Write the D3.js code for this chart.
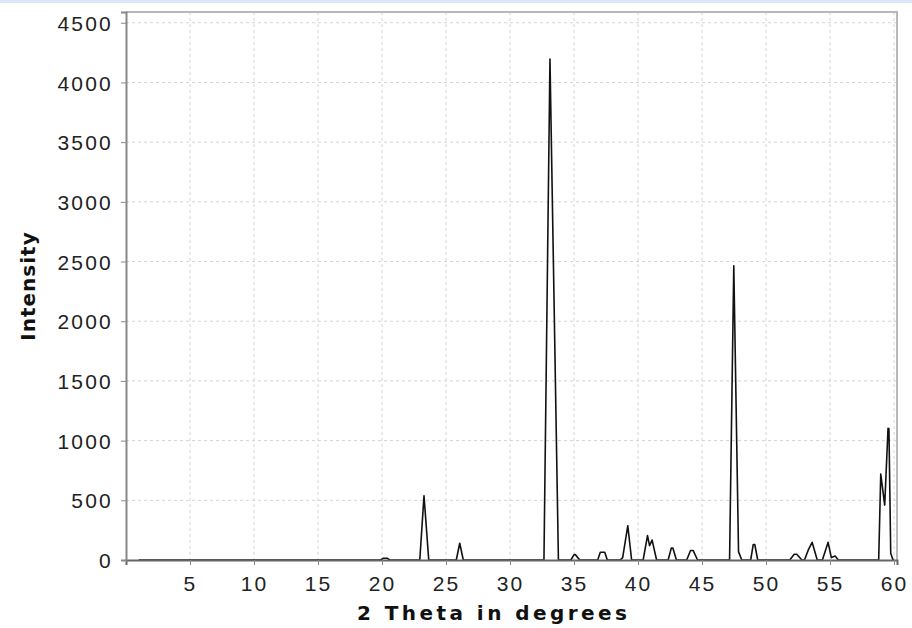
<!DOCTYPE html>
<html>
<head>
<meta charset="utf-8">
<script src="https://cdn.jsdelivr.net/npm/d3@7"></script>
<style>
  html, body { margin: 0; padding: 0; background: #fff; }
  svg { display: block; font-family: "DejaVu Sans", sans-serif; }
  .tick text { font-size: 21px; fill: #222; letter-spacing: 2.2px; }
  .grid line { stroke: #d4d4d4; stroke-dasharray: 3,3; }
</style>
</head>
<body>
<div id="chart"></div>
<script>
// Diffractogram points (2 theta, intensity)
const twoTheta = [
  1, 19.9, 20.1, 20.4, 20.6,
  22.95, 23.28, 23.65,
  25.8, 26.07, 26.35,
  32.65, 33.12, 33.78,
  34.75, 35.0, 35.1, 35.45,
  36.85, 37.05, 37.4, 37.6,
  38.6, 38.8, 39.2, 39.5,
  40.4, 40.74, 40.9, 41.1, 41.45,
  42.35, 42.6, 42.72, 43.0,
  43.8, 44.1, 44.3, 44.65,
  47.15, 47.48, 47.85, 48.1,
  48.8, 49.0, 49.12, 49.35,
  51.85, 52.2, 52.4, 52.8,
  53.0, 53.3, 53.6, 54.0,
  54.4, 54.85, 55.1, 55.4, 55.65,
  58.8, 58.96, 59.27, 59.53, 59.6, 59.74, 59.92, 60
];
const intensity = [
  0, 0, 15, 15, 0,
  0, 538, 0,
  0, 140, 0,
  0, 4196, 0,
  0, 45, 45, 0,
  0, 65, 65, 0,
  0, 20, 287, 0,
  0, 204, 120, 167, 0,
  0, 100, 100, 0,
  0, 80, 80, 0,
  0, 2465, 70, 0,
  0, 130, 130, 0,
  0, 48, 48, 0,
  0, 84, 148, 0,
  0, 148, 20, 33, 0,
  0, 720, 460, 1103, 1100, 56, 0, 0
];
const xTicks = [5, 10, 15, 20, 25, 30, 35, 40, 45, 50, 55, 60];
const yTicks = [0, 500, 1000, 1500, 2000, 2500, 3000, 3500, 4000, 4500];

const width = 912, height = 628;
const margin = { top: 12, right: 15, bottom: 68, left: 126 };

const svg = d3.select("#chart").append("svg")
  .attr("width", width)
  .attr("height", height);

// thin light blue band along the top edge
svg.append("rect")
  .attr("x", 0).attr("y", 0)
  .attr("width", width).attr("height", 3)
  .attr("fill", "#d9e6f5");

const x = d3.scaleLinear()
  .domain([0, 60.23])
  .range([margin.left, width - margin.right]);

const y = d3.scaleLinear()
  .domain([0, 4590])
  .range([height - margin.bottom, margin.top]);

// grid
svg.append("g").attr("class", "grid")
  .selectAll("line.v").data(xTicks).join("line")
  .attr("x1", d => x(d)).attr("x2", d => x(d))
  .attr("y1", y.range()[1]).attr("y2", y.range()[0]);

svg.append("g").attr("class", "grid")
  .selectAll("line.h").data(yTicks.filter(d => d > 0)).join("line")
  .attr("x1", x.range()[0]).attr("x2", x.range()[1])
  .attr("y1", d => y(d)).attr("y2", d => y(d));

// top / right frame
svg.append("path")
  .attr("d", `M${x.range()[0]},${margin.top}H${x.range()[1]}V${y.range()[0]}`)
  .attr("fill", "none")
  .attr("stroke", "#b8b8b8")
  .attr("stroke-width", 2);

// the pattern
const pts = twoTheta.map((t, i) => [t, intensity[i]]);
const line = d3.line()
  .x(d => x(d[0]))
  .y(d => y(d[1]));

svg.append("path")
  .datum(pts)
  .attr("fill", "none")
  .attr("stroke", "#111")
  .attr("stroke-width", 1.6)
  .attr("stroke-linejoin", "round")
  .attr("d", line);

// axes
const xAxis = svg.append("g")
  .attr("transform", `translate(0,${height - margin.bottom})`)
  .call(d3.axisBottom(x).tickValues(xTicks).tickSize(5).tickPadding(7).tickFormat(d3.format("d")));

const yAxis = svg.append("g")
  .attr("transform", `translate(${margin.left},0)`)
  .call(d3.axisLeft(y).tickValues(yTicks).tickSize(5).tickPadding(8).tickFormat(d3.format("d")));

xAxis.select(".domain").attr("stroke", "#666").attr("stroke-width", 2);
yAxis.select(".domain").attr("stroke", "#888").attr("stroke-width", 2);
xAxis.selectAll(".tick line").attr("stroke", "#888");
yAxis.selectAll(".tick line").attr("stroke", "#888");
xAxis.selectAll(".tick text").attr("dy", "0.9em");
yAxis.selectAll(".tick text").attr("dy", "0.36em");

// titles
svg.append("text")
  .attr("x", 492)
  .attr("y", 620)
  .attr("text-anchor", "middle")
  .attr("textLength", 270)
  .attr("lengthAdjust", "spacing")
  .style("font-size", "20px")
  .style("font-weight", "bold")
  .attr("fill", "#111")
  .text("2 Theta in degrees");

svg.append("text")
  .attr("transform", `translate(35,${(y.range()[0] + y.range()[1]) / 2}) rotate(-90)`)
  .attr("text-anchor", "middle")
  .style("font-size", "20px")
  .style("font-weight", "bold")
  .style("letter-spacing", "1px")
  .attr("fill", "#111")
  .text("Intensity");
</script>
</body>
</html>
